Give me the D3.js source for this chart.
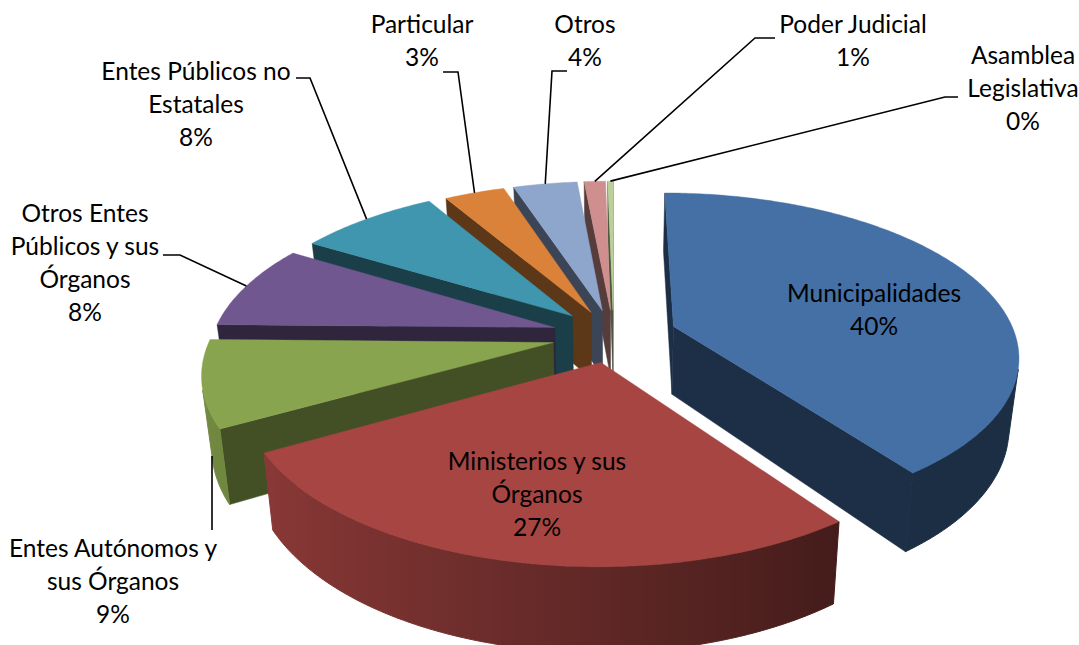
<!DOCTYPE html>
<html>
<head>
<meta charset="utf-8">
<script src="https://cdnjs.cloudflare.com/ajax/libs/d3/7.8.5/d3.min.js"></script>
<style>
  html, body { margin: 0; padding: 0; background: #fff; }
  text { font-family: Lato, "Open Sans", sans-serif; fill: #000; }
  .leader { fill: none; stroke: #000; stroke-width: 1.6; }
</style>
</head>
<body>
<div id="chart"></div>
<script>
// Chart values
var categories = ["Municipalidades", "Ministerios y sus Órganos", "Entes Autónomos y sus Órganos",
    "Otros Entes Públicos y sus Órganos", "Entes Públicos no Estatales", "Particular", "Otros",
    "Poder Judicial", "Asamblea Legislativa"];
var values = [40.2, 26.9, 8.5, 8.4, 7.9, 3.4, 3.6, 1.2, 0.3];
var labelLines = [
    ["Municipalidades"],
    ["Ministerios y sus", "Órganos"],
    ["Entes Autónomos y", "sus Órganos"],
    ["Otros Entes", "Públicos y sus", "Órganos"],
    ["Entes Públicos no", "Estatales"],
    ["Particular"],
    ["Otros"],
    ["Poder Judicial"],
    ["Asamblea", "Legislativa"]
];
var colors = ["#4470a6", "#a74542", "#89a44e", "#70578f", "#3f96ae", "#da823a", "#8ea5cc", "#ce8f8e", "#bad19a"];

// Layout of the text
var labelX = [874, 537, 113, 85, 196, 422, 585, 853, 1023];
var labelY = [293, 461, 548, 213, 71, 24, 24, 24, 55];
var lineStep = 33;

var width = 1079, height = 645;

// Perspective of the pie plane
var x0 = 613.5, y0 = 341, depth = 2000, tilt = 0.468, thick = 69, converge = 0.00036;
var radius = 344, centerV = -12;
var explode = [64, 58, 62, 62, 60, 56, 56, 56, 56];

function project(u, v, z) {
    var s = 1 / (1 - v / depth);
    return [x0 + u * s * (1 - z * converge), y0 + (tilt * v + z) * s];
}

function area(pts) {
    var sum = 0;
    pts.forEach(function (p, i) {
        var q = pts[(i + 1) % pts.length];
        sum += p[0] * q[1] - q[0] * p[1];
    });
    return sum;
}

function shade(color, f) {
    var c = d3.rgb(color);
    return d3.rgb(c.r * f, c.g * f, c.b * f).formatHex();
}

// outer wall is lit from the left
function wallFactor(a) {
    var f = 0.41 + (0.58 - Math.sin(a)) * 0.283;
    return Math.max(0.41, Math.min(0.92, f));
}

var pie = d3.pie().sort(null).value(function (d) { return d; })
    .startAngle(0).endAngle(2 * Math.PI);
var line = d3.line();

var slices = pie(values).map(function (d, i) {
    var mid = (d.startAngle + d.endAngle) / 2;
    var e = explode[i];
    d.index = i;
    d.apexU = e * Math.sin(mid);
    d.apexV = centerV - e * Math.cos(mid);
    d.point = function (a, z) {
        return project(d.apexU + radius * Math.sin(a), d.apexV - radius * Math.cos(a), z);
    };
    d.apex = function (z) { return project(d.apexU, d.apexV, z); };
    return d;
});

var svg = d3.select("#chart").append("svg")
    .attr("width", width)
    .attr("height", height)
    .style("display", "block");

var defs = svg.append("defs");

// back slices first, front ones paint over them
var groups = svg.selectAll("g.slice")
    .data(slices.slice().reverse())
    .enter()
    .append("g")
    .attr("class", "slice");

groups.each(function (d) {
    var g = d3.select(this);
    var color = colors[d.index];
    var wall = shade(color, d.index == 2 ? 0.49 : 0.42);

    var startFace = [d.apex(0), d.point(d.startAngle, 0), d.point(d.startAngle, thick), d.apex(thick)];
    var endFace = [d.apex(0), d.point(d.endAngle, 0), d.point(d.endAngle, thick), d.apex(thick)];
    if (area(startFace) < 0) {
        g.append("path").attr("d", line(startFace) + "Z").attr("fill", wall).attr("stroke", wall).attr("stroke-width", 0.5);
    }
    if (area(endFace) > 0) {
        g.append("path").attr("d", line(endFace) + "Z").attr("fill", wall).attr("stroke", wall).attr("stroke-width", 0.5);
    }

    // only the part of the outer wall that faces the viewer
    var steps = d3.range(d.startAngle, d.endAngle, 0.012).concat([d.endAngle]);
    var visible = steps.filter(function (a, j) {
        var b = j < steps.length - 1 ? steps[j + 1] : steps[j - 1];
        var quad = [d.point(a, 0), d.point(b, 0), d.point(b, thick), d.point(a, thick)];
        return j < steps.length - 1 ? area(quad) < 0 : area(quad) > 0;
    });
    if (visible.length > 1) {
        var xs = visible.map(function (a) { return d.point(a, 0)[0]; });
        var xMin = d3.min(xs), xMax = d3.max(xs);
        var offset = d3.scaleLinear().domain([xMin, xMax]).range([0, 1]);
        var stops = visible.map(function (a, j) { return { x: xs[j], c: shade(color, wallFactor(a)) }; })
            .sort(function (p, q) { return p.x - q.x; });
        var grad = defs.append("linearGradient")
            .attr("id", "wall" + d.index)
            .attr("gradientUnits", "userSpaceOnUse")
            .attr("x1", xMin).attr("y1", 0)
            .attr("x2", xMax).attr("y2", 0);
        grad.selectAll("stop")
            .data(stops)
            .enter()
            .append("stop")
            .attr("offset", function (p) { return offset(p.x); })
            .attr("stop-color", function (p) { return p.c; });
        var outline = visible.map(function (a) { return d.point(a, 0); })
            .concat(visible.slice().reverse().map(function (a) { return d.point(a, thick); }));
        // stroke closes the hairline seam against the flat face
        g.append("path").attr("d", line(outline) + "Z")
            .attr("fill", "url(#wall" + d.index + ")")
            .attr("stroke", "url(#wall" + d.index + ")")
            .attr("stroke-width", 1);
    }

    var top = [d.apex(0)].concat(steps.map(function (a) { return d.point(a, 0); }));
    g.append("path").attr("d", line(top) + "Z").attr("fill", color).attr("stroke", color).attr("stroke-width", 0.4);
});

// leader lines: label side points, where along the arc they end, top or bottom of the wall
var leaders = [
    { i: 2, from: [[212, 530]], t: 0.5, z: thick, vertical: true },
    { i: 3, from: [[163, 255], [180, 255]], t: 0.5, z: 0 },
    { i: 4, from: [[296, 78], [310, 78]], t: 0.5, z: 0 },
    { i: 5, from: [[443, 72], [458, 72]], t: 0.5, z: 0 },
    { i: 6, from: [[567, 71], [552, 71]], t: 0.5, z: 0 },
    { i: 7, from: [[775, 38], [755, 38]], t: 0.5, z: 0 },
    { i: 8, from: [[958, 97], [945, 97]], t: 0.5, z: 0 }
];

svg.selectAll("path.leader")
    .data(leaders)
    .enter()
    .append("path")
    .attr("class", "leader")
    .attr("d", function (d) {
        var s = slices[d.i];
        var end = s.point(s.startAngle + (s.endAngle - s.startAngle) * d.t, d.z);
        if (d.vertical) end = [d.from[0][0], end[1]];
        return line(d.from.concat([end]));
    });

// labels
var labels = svg.selectAll("text.label")
    .data(slices)
    .enter()
    .append("text")
    .attr("class", "label")
    .attr("text-anchor", "middle")
    .attr("font-size", "24.5px");

labels.each(function (d) {
    var rows = labelLines[d.index].concat([Math.round(d.value) + "%"]);
    d3.select(this).selectAll("tspan")
        .data(rows)
        .enter()
        .append("tspan")
        .attr("x", labelX[d.index])
        .attr("y", function (r, j) { return labelY[d.index] + 9 + j * lineStep; })
        .text(function (r) { return r; });
});
</script>
</body>
</html>
